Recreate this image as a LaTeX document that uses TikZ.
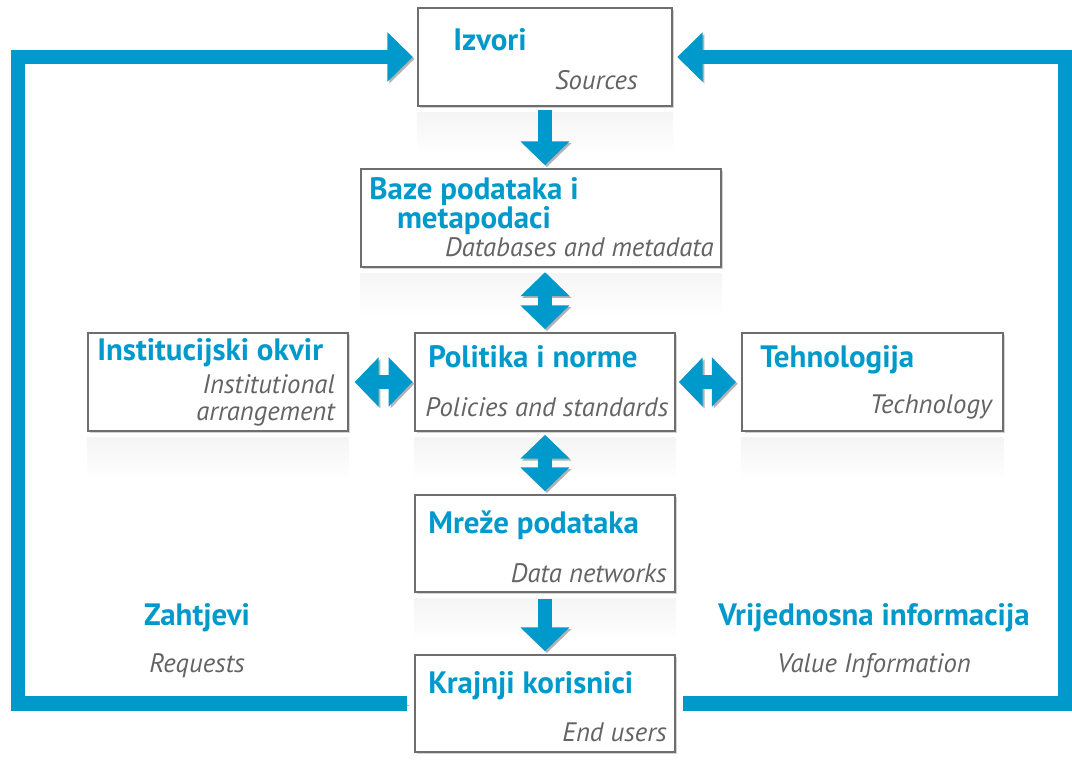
\documentclass[tikz,border=0pt]{standalone}
\usepackage{fontspec}
\setmainfont{PT Sans}
\usetikzlibrary{arrows.meta,shadows}
\definecolor{sdiblue}{RGB}{0,153,204}
\definecolor{subgray}{RGB}{100,100,100}
\definecolor{boxgray}{RGB}{110,110,110}

\begin{document}
\begin{tikzpicture}[x=0.025cm, y=-0.025cm,
    box/.style = {draw=boxgray, line width=1.4pt, fill=white, minimum width=6.5cm, minimum height=2.45cm,
                  drop shadow={shadow xshift=1.5pt, shadow yshift=-1.5pt, opacity=0.35}},
    title/.style = {text=sdiblue, font=\fontsize{22}{20}\selectfont\bfseries, inner sep=0pt},
    sub/.style = {text=subgray, font=\fontsize{19}{19.2}\selectfont\itshape, inner sep=0pt},
    shad/.style = {preaction={draw=black!30, transform canvas={shift={(1.3pt,-1.3pt)}}}},
    flow/.style = {shad, sdiblue, line width=10.5pt, -{Triangle[width=34pt,length=17pt]}},
    both/.style = {shad, sdiblue, line width=10.5pt, {Triangle[width=34pt,length=17pt]}-{Triangle[width=34pt,length=17pt]}},
    back/.style = {shad, sdiblue, line width=10pt, line join=miter, -{Triangle[width=34pt,length=18pt]}}]
    \useasboundingbox (0,0) rectangle (1072,760);

    % boxes
    \node[box, minimum width=6.35cm] (izv) at (545,57) {};
    \node[box, minimum width=9cm] (baze) at (541,218) {};
    \node[box] (inst) at (218,382) {};
    \node[box] (pol) at (545,382) {};
    \node[box] (teh) at (872.5,382) {};
    \node[box, minimum height=2.425cm] (mreze) at (545,543.5) {};
    \node[box, minimum height=2.425cm] (kraj) at (545,703.5) {};

    % faint reflections under the boxes
    \foreach \b in {izv,baze,inst,pol,teh,mreze}
        \shade[top color=black!4, bottom color=white] ([yshift=-4pt]\b.south west) rectangle ([yshift=-34pt]\b.south east);

    % texts
    \node[title, anchor=west] (izvT) at (453,40) {Izvori};
    \node[sub, anchor=east] (izvS) at (638,80) {Sources};
    \node[title, align=center] (bazeT) at (474,206) {Baze podataka i\\metapodaci};
    \node[sub, anchor=east] (bazeS) at (714,247) {Databases and metadata};
    \node[title, anchor=west] (instT) at (97,353) {Institucijski okvir};
    \node[sub, anchor=east, align=right] (instS) at (335,400) {Institutional\\arrangement};
    \node[title, anchor=west] (polT) at (428,357) {Politika i norme};
    \node[sub, anchor=west] (polS) at (425,407) {Policies and standards};
    \node[title, anchor=west] (tehT) at (760,360) {Tehnologija};
    \node[sub, anchor=east] (tehS) at (992,407) {Technology};
    \node[title, anchor=west] (mrezeT) at (428,525) {Mreže podataka};
    \node[sub, anchor=east] (mrezeS) at (667,573) {Data networks};
    \node[title, anchor=west] (krajT) at (428,686) {Krajnji korisnici};
    \node[sub, anchor=east] (krajS) at (667,732) {End users};
    \node[title] (zah) at (197,618) {Zahtjevi};
    \node[sub] (req) at (197,666) {Requests};
    \node[title] (vri) at (874,618) {Vrijednosna informacija};
    \node[sub] (val) at (874,666) {Value Information};

    % arrows between boxes
    \draw[flow, shorten <=2pt, shorten >=2pt] (izv.south) -- (izv.south |- baze.north);
    \draw[both, shorten <=3pt, shorten >=2pt] (baze.south -| pol) -- (pol.north);
    \draw[both, shorten <=2pt, shorten >=2pt] (pol.south) -- (mreze.north);
    \draw[both, shorten <=4pt, shorten >=1pt] (inst.east) -- (pol.west);
    \draw[both, shorten <=2pt, shorten >=4pt] (pol.east) -- (teh.west);
    \draw[flow, shorten <=4pt, shorten >=2pt] (mreze.south) -- (kraj.north);

    % feedback loops
    \coordinate (lc) at (18,57);
    \coordinate (rc) at (1065,57);
    \draw[back, shorten <=5pt, shorten >=3pt] (kraj.west) -| (lc) -- (izv.west);
    \draw[back, shorten <=5pt, shorten >=3pt] (kraj.east) -| (rc) -- (izv.east);
\end{tikzpicture}
\end{document}
